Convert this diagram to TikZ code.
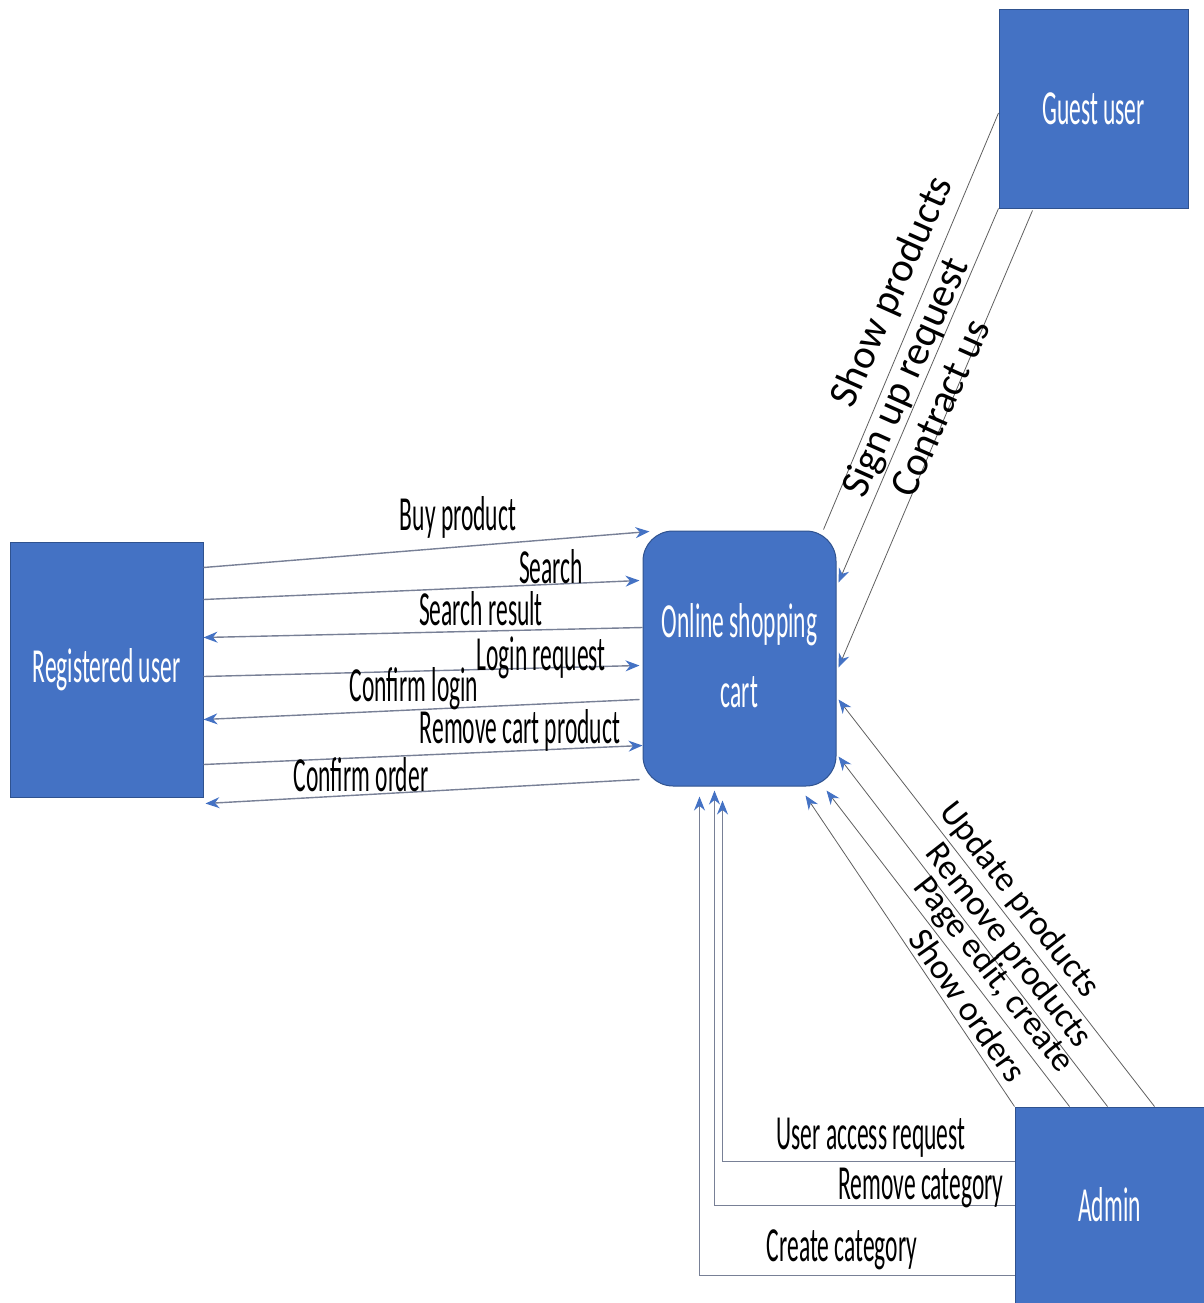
\documentclass[tikz,border=0pt]{standalone}
\usepackage{fontspec}
\setmainfont{Carlito}
\usetikzlibrary{arrows.meta,calc}

\definecolor{boxblue}{RGB}{68,114,196}
\definecolor{boxedge}{RGB}{47,82,143}
\definecolor{flowgray}{RGB}{120,128,150}
\definecolor{diaggray}{RGB}{95,95,95}

% horizontal texts are squeezed
\newcommand{\narrow}[1]{\scalebox{0.48}[1]{#1}}

\tikzset{
  ent/.style={draw=boxedge, fill=boxblue, line width=1pt, text=white, inner sep=0pt,
    font=\fontsize{49}{70}\selectfont},
  flow/.style={draw=flowgray, line width=1.4pt, -{Stealth[length=14pt,width=11pt,color=boxblue]}},
  dflow/.style={draw=diaggray, line width=0.8pt, -{Stealth[length=14pt,width=11pt,color=boxblue]}},
  dline/.style={draw=diaggray, line width=0.8pt},
  lbl/.style={anchor=base, inner sep=0pt, font=\fontsize{49}{58}\selectfont},
  slbl/.style={inner sep=0pt, font=\fontsize{41}{50}\selectfont},
  alslbl/.style={inner sep=0pt, font=\fontsize{35}{44}\selectfont},
}

\begin{document}
\begin{tikzpicture}[x=1pt,y=-1pt]
\useasboundingbox (0,0) rectangle (1204,1303);

% entities and process
\node [ent, minimum width=193pt, minimum height=255pt] (reg) at (106.5,669.5) {\narrow{Registered user}};
\node [ent, minimum width=193pt, minimum height=255pt, rounded corners=30pt] (cart) at (739.5,658.5)
  {\raisebox{-4pt}{\narrow{\begin{tabular}{@{}c@{}}Online shopping\\cart\end{tabular}}}};
\node [ent, minimum width=189pt, minimum height=198pt] (guest) at (1093.5,109) {\narrow{Guest user}};
\node [ent, minimum width=189pt, minimum height=196pt] (admin) at (1109.5,1205) {\narrow{Admin}};

% registered user <-> cart
\draw [flow] ($(reg.north east)+(0,26)$) -- ($(cart.north west)+(7,1)$);
\draw [flow] ($(reg.north east)+(0,58)$) -- ($(cart.north west)+(-3,50)$);
\draw [flow] ($(cart.north west)+(0,97)$) -- ($(reg.north east)+(0,96)$);
\draw [flow] ($(reg.north east)+(0,135)$) -- ($(cart.north west)+(-3,135)$);
\draw [flow] ($(cart.north west)+(-3,169)$) -- ($(reg.north east)+(0,178)$);
\draw [flow] ($(reg.north east)+(0,223)$) -- ($(cart.north west)+(0,215)$);
\draw [flow] ($(cart.north west)+(-3,249)$) -- ($(reg.south east)+(2,6)$);

\node [lbl] (lbuy) at (458,530) {\narrow{Buy product}};
\node [lbl] (lsearch) at (551,583) {\narrow{Search}};
\node [lbl] (lresult) at (481,625) {\narrow{Search result}};
\node [lbl] (llogin) at (541,670) {\narrow{Login request}};
\node [lbl] (lconfl) at (414,701) {\narrow{Confirm login}};
\node [lbl] (lremcart) at (520,743) {\narrow{Remove cart product}};
\node [lbl] (lconfo) at (361,791) {\narrow{Confirm order}};

% guest user -> cart
\draw [dline] ($(guest.west)+(0,4)$) -- ($(cart.north east)+(-13,-1)$);
\draw [dflow] (guest.south west) -- ($(cart.north east)+(2,52)$);
\draw [dflow] ($(guest.south west)+(34,2)$) -- ($(cart.north east)+(2,137)$);

\node [slbl, rotate=66] (lshowp) at (893,292) {Show products};
\node [slbl, rotate=66] (lsignup) at (907,378) {Sign up request};
\node [slbl, rotate=66] (lcontr) at (940,408) {Contract us};

% admin -> cart
\draw [dflow] ($(admin.north west)+(140,0)$) -- ($(cart.north east)+(2,169)$);
\draw [dflow] ($(admin.north west)+(93,0)$) -- ($(cart.north east)+(2,226)$);
\draw [dflow] ($(admin.north west)+(55,0)$) -- ($(cart.south east)+(-10,4)$);
\draw [dflow] (admin.north west) -- ($(cart.south east)+(-31,9)$);

\node [alslbl, rotate=-52] (lupd) at (1019,900) {Update products};
\node [alslbl, rotate=-52] (lremp) at (1008,946) {Remove products};
\node [alslbl, rotate=-52] (lpage) at (993,975) {Page edit, create};
\node [alslbl, rotate=-55] (lorders) at (968,1005) {Show orders};

\draw [flow] ($(admin.north west)+(0,55)$) -| ($(cart.south west)+(80,14)$);
\draw [flow] ($(admin.north west)+(0,99)$) -| ($(cart.south west)+(72,4)$);
\draw [flow] ($(admin.north west)+(0,169)$) -| ($(cart.south west)+(57,10)$);

\node [lbl] (laccess) at (871,1149) {\narrow{User access request}};
\node [lbl] (lremcat) at (921,1199) {\narrow{Remove category}};
\node [lbl] (lcreat) at (842,1261) {\narrow{Create category}};
\end{tikzpicture}
\end{document}
